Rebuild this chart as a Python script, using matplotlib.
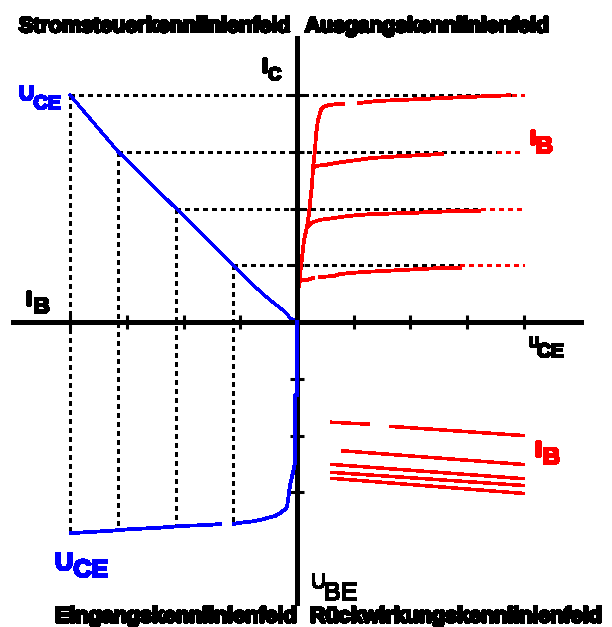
import numpy as np
import matplotlib
matplotlib.use("Agg")
import matplotlib.pyplot as plt
from matplotlib import patheffects

plt.rcParams["lines.antialiased"] = False
plt.rcParams["patch.antialiased"] = False
plt.rcParams["text.antialiased"] = False

FONT = ["Liberation Sans", "DejaVu Sans"]

# ---- Quadrant I: output characteristics I_C(U_CE), one curve per base current
IC_LEVELS = [1, 2, 3, 4]

OUT1_UCE = [0, 0, 0.018, 0.053, 0.07, 0.176, 0.282, np.nan, 0.405, 0.652, 0.758, 1.163, 1.85, 2.537, 2.872]
OUT1_IC = [0, 0.21, 0.56, 0.74, 0.74, 0.74, 0.775, np.nan, 0.793, 0.81, 0.846, 0.881, 0.916, 0.952, 0.952]

OUT2_UCE = [0, 0, 0.018, 0.053, 0.088, 0.123, 0.176, 0.194, 0.282, 0.405, 0.634, 0.916, 1.286, 1.956, 2.80, 3.207]
OUT2_IC = [0, 0.21, 0.56, 0.83, 1.13, 1.445, 1.67, 1.69, 1.76, 1.80, 1.83, 1.87, 1.90, 1.92, 1.956, 1.956]

OUT3_UCE = [0, 0, 0.018, 0.053, 0.088, 0.123, 0.176, 0.211, 0.229, 0.264, 0.282, 0.317, 0.493, 0.67, 0.951, 1.322, 1.78, 2.555]
OUT3_IC = [0, 0.21, 0.56, 0.83, 1.13, 1.445, 1.67, 1.90, 2.10, 2.41, 2.71, 2.75, 2.767, 2.80, 2.84, 2.89, 2.92, 2.96]

OUT4_UCE = [0, 0, 0.018, 0.053, 0.088, 0.123, 0.176, 0.211, 0.229, 0.264, 0.282, 0.317, 0.335,
            0.37, 0.423, 0.493, 0.581, 0.705, 0.811, np.nan, 1.093, 1.41, 1.99, 2.87, 3.735]
OUT4_IC = [0, 0.21, 0.56, 0.83, 1.13, 1.445, 1.67, 1.90, 2.10, 2.41, 2.71, 3.03, 3.30,
           3.56, 3.74, 3.806, 3.824, 3.84, 3.84, np.nan, 3.86, 3.894, 3.92, 3.96, 3.995]

OUT_CURVES = [(OUT1_UCE, OUT1_IC), (OUT2_UCE, OUT2_IC), (OUT3_UCE, OUT3_IC), (OUT4_UCE, OUT4_IC)]
# U_CE where each I_C guide line turns red
RED_GUIDE_START = [2.87, 3.24, 3.52, 3.79]
UCE_MAX = 4.0

# ---- Quadrant II: current control characteristic I_C(I_B)
CTRL_IB = [0, 0.12, 0.21, 0.48, 0.83, 1.13, 2.13, 3.15, 4.0]
CTRL_IC = [0, 0.07, 0.18, 0.39, 0.70, 1.0, 2.0, 3.0, 4.0]
# I_B at each I_C level
GUIDE_IB = [1.13, 2.13, 3.15, 4.0]

# ---- Quadrant III: input characteristic I_B(U_BE)
IN_IB = [0, 0, 0.035, 0.035, 0.088, 0.123, 0.141, 0.176, 0.21, 0.247, 0.30, 0.388, 0.511,
         0.652, 0.828, 1.04, 1.11, np.nan, 1.357, 1.62, 1.97, 2.24, 2.5, 2.94, 3.3, 3.98]
IN_UBE = [0, 1.29, 1.29, 2.47, 2.73, 2.87, 3.01, 3.26, 3.30, 3.33, 3.37, 3.42, 3.45,
          3.49, 3.52, 3.54, 3.56, np.nan, 3.56, 3.58, 3.59, 3.61, 3.63, 3.65, 3.68, 3.72]

# ---- Quadrant IV: feedback characteristics U_BE(U_CE)
FB_UCE = [[0.617, 1.25, np.nan, 1.656, 3.98],
          [0.81, 3.98],
          [0.617, 3.98],
          [0.617, 3.98],
          [0.617, 3.98]]
FB_UBE = [[1.767, 1.80, np.nan, 1.84, 2.0],
          [2.27, 2.51],
          [2.51, 2.76],
          [2.65, 2.88],
          [2.755, 3.02]]

TICKS_X = [-4, -3, -2, -1, 1, 2, 3, 4]
TICKS_Y = [-3, -2, -1, 1, 2, 3, 4]
AXIS_SPAN = 5.0

BLUE = "#0000ff"
RED = "#ff0000"
BLACK = "#000000"
DOT = (0, (1.6, 1.6))

fig = plt.figure(figsize=(6.12, 6.27), dpi=100)
ax = fig.add_axes([0, 0, 1, 1])
ax.set_xlim(-5.2335, 5.5507)
ax.set_ylim(-5.3744, 5.674)

# cross-shaped axes through the origin
for side in ("top", "right"):
    ax.spines[side].set_visible(False)
ax.spines["left"].set_position(("data", 0))
ax.spines["bottom"].set_position(("data", 0))
ax.spines["left"].set_bounds(-4.95, AXIS_SPAN)
ax.spines["bottom"].set_bounds(-AXIS_SPAN, AXIS_SPAN)
for side in ("left", "bottom"):
    ax.spines[side].set_linewidth(2.2)
    ax.spines[side].set_zorder(3)
ax.set_xticks(TICKS_X)
ax.set_yticks(TICKS_Y)
ax.tick_params(direction="inout", length=10, width=2.2, color=BLACK,
               labelbottom=False, labelleft=False)
ax.set_facecolor("white")

# guide lines linking the four quadrants
valid = ~np.isnan(np.array(IN_IB))
ib_v = np.array(IN_IB)[valid]
ube_v = np.array(IN_UBE)[valid]
for lvl, ib, red_x in zip(IC_LEVELS, GUIDE_IB, RED_GUIDE_START):
    ax.plot([-ib, red_x], [lvl, lvl], color=BLACK, lw=2.2, linestyle=DOT, zorder=1)
    ax.plot([red_x, UCE_MAX], [lvl, lvl], color=RED, lw=2.2, linestyle=DOT, zorder=1)
    ube = np.interp(ib, ib_v, ube_v)
    ax.plot([-ib, -ib], [lvl, -ube], color=BLACK, lw=2.2, linestyle=DOT, zorder=1)

# output characteristics
for uce, ic in OUT_CURVES:
    ax.plot(uce, ic, color=RED, lw=2.0, zorder=2)

# current control characteristic
ax.plot(-np.array(CTRL_IB), CTRL_IC, color=BLUE, lw=1.6, zorder=2)

# input characteristic
ax.plot(-np.array(IN_IB), -np.array(IN_UBE), color=BLUE, lw=2.0, zorder=4)

# feedback characteristics
for uce, ube in zip(FB_UCE, FB_UBE):
    ax.plot(uce, -np.array(ube), color=RED, lw=1.8, zorder=2)


def put(x, y, s, color=BLACK, size=15, weight="bold", heavy=0.9):
    effects = [patheffects.withStroke(linewidth=heavy, foreground=color)] if heavy else []
    ax.text(x, y, s, color=color, fontsize=size, fontweight=weight, family=FONT,
            ha="left", va="baseline", zorder=5, path_effects=effects)


# quadrant titles
put(-4.899, 5.11, "Stromsteuerkennlinienfeld", size=15.5, heavy=1.3)
put(0.141, 5.11, "Ausgangskennlinienfeld", size=15.2, heavy=1.3)
put(-4.264, -5.29, "Eingangskennlinienfeld", size=15.5, heavy=1.3)
put(0.229, -5.29, "Rückwirkungskennlinienfeld", size=15.5, heavy=1.3)

# axis and curve labels (letter + subscript)
put(-4.899, 3.912, "U", BLUE, 15)
put(-4.64, 3.753, "CE", BLUE, 14)
put(-0.617, 4.405, "I", BLACK, 15)
put(-0.51, 4.264, "C", BLACK, 13)
put(4.106, 3.137, "I", RED, 15)
put(4.21, 2.978, "B", RED, 17)
put(4.088, -0.441, "U", BLACK, 10)
put(4.229, -0.617, "CE", BLACK, 14)
put(-4.775, 0.30, "I", BLACK, 15)
put(-4.64, 0.159, "B", BLACK, 16)
put(4.194, -2.361, "I", RED, 16)
put(4.335, -2.502, "B", RED, 17)
put(-4.264, -4.370, "U", BLUE, 18)
put(-3.94, -4.493, "CE", BLUE, 18)
put(0.247, -4.687, "U", BLACK, 15, "normal", heavy=0.6)
put(0.476, -4.899, "BE", BLACK, 18, "normal", heavy=0.6)

fig.savefig("out.png", dpi=100, facecolor="white")
